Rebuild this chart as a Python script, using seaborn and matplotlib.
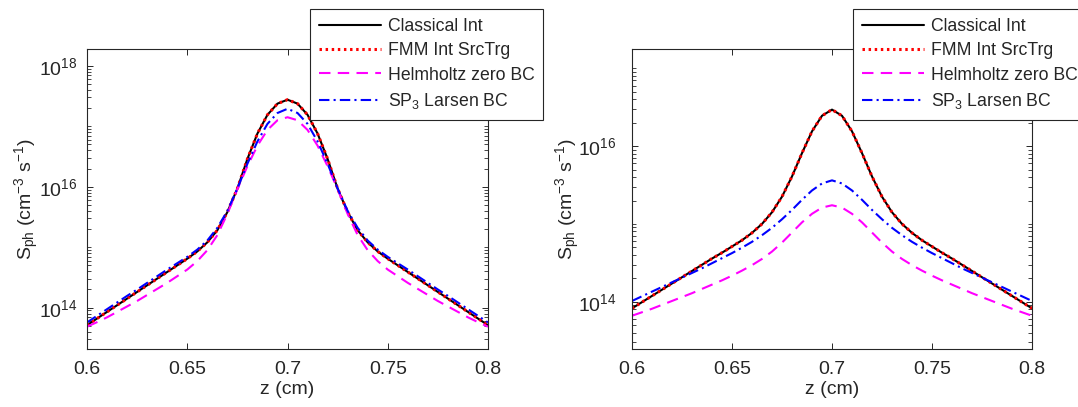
import numpy as np
import pandas as pd
import matplotlib
matplotlib.use("Agg")
import matplotlib.pyplot as plt
import seaborn as sns
from matplotlib.ticker import FixedLocator, LogLocator, NullFormatter

# ---------------- data (log10 of S_ph) ----------------
z = [0.600, 0.605, 0.610, 0.615, 0.620, 0.625, 0.630, 0.635, 0.640, 0.645,
     0.650, 0.655, 0.660, 0.665, 0.670, 0.675, 0.680, 0.685, 0.690, 0.695,
     0.700, 0.705, 0.710, 0.715, 0.720, 0.725, 0.730, 0.735, 0.740, 0.745,
     0.750, 0.755, 0.760, 0.765, 0.770, 0.775, 0.780, 0.785, 0.790, 0.795, 0.800]

left_classical = [13.71, 13.82, 13.93, 14.04, 14.15, 14.26, 14.37, 14.48, 14.59, 14.70,
                  14.81, 14.93, 15.08, 15.28, 15.58, 15.97, 16.46, 16.88, 17.19, 17.375,
                  17.44,
                  17.375, 17.19, 16.88, 16.46, 15.97, 15.58, 15.28, 15.08, 14.93, 14.81,
                  14.70, 14.59, 14.48, 14.37, 14.26, 14.15, 14.04, 13.93, 13.82, 13.71]
left_fmm = [13.71, 13.82, 13.93, 14.04, 14.15, 14.26, 14.37, 14.48, 14.59, 14.70,
            14.81, 14.93, 15.08, 15.28, 15.58, 15.97, 16.46, 16.88, 17.19, 17.375,
            17.44,
            17.375, 17.19, 16.88, 16.46, 15.97, 15.58, 15.28, 15.08, 14.93, 14.81,
            14.70, 14.59, 14.48, 14.37, 14.26, 14.15, 14.04, 13.93, 13.82, 13.71]
left_helmholtz = [13.685, 13.76, 13.84, 13.93, 14.02, 14.11, 14.21, 14.31, 14.41, 14.52,
                  14.63, 14.77, 14.95, 15.20, 15.55, 15.96, 16.34, 16.68, 16.94, 17.10,
                  17.15,
                  17.10, 16.94, 16.68, 16.34, 15.96, 15.55, 15.20, 14.95, 14.77, 14.63,
                  14.52, 14.41, 14.31, 14.21, 14.11, 14.02, 13.93, 13.84, 13.76, 13.685]
left_sp3 = [13.755, 13.865, 13.975, 14.085, 14.195, 14.30, 14.41, 14.52, 14.63, 14.735,
            14.84, 14.96, 15.11, 15.32, 15.60, 15.97, 16.38, 16.75, 17.04, 17.22,
            17.29,
            17.22, 17.04, 16.75, 16.38, 15.97, 15.60, 15.32, 15.11, 14.96, 14.84,
            14.735, 14.63, 14.52, 14.41, 14.30, 14.195, 14.085, 13.975, 13.865, 13.755]

right_classical = [13.915, 13.995, 14.075, 14.155, 14.235, 14.315, 14.395, 14.475, 14.555, 14.63,
                   14.71, 14.79, 14.885, 15.00, 15.15, 15.35, 15.61, 15.91, 16.19, 16.39,
                   16.469,
                   16.39, 16.19, 15.91, 15.61, 15.35, 15.15, 15.00, 14.885, 14.79, 14.71,
                   14.63, 14.555, 14.475, 14.395, 14.315, 14.235, 14.155, 14.075, 13.995, 13.915]
right_fmm = [13.915, 13.995, 14.075, 14.155, 14.235, 14.315, 14.395, 14.475, 14.555, 14.63,
             14.71, 14.79, 14.885, 15.00, 15.15, 15.35, 15.61, 15.91, 16.19, 16.39,
             16.469,
             16.39, 16.19, 15.91, 15.61, 15.35, 15.15, 15.00, 14.885, 14.79, 14.71,
             14.63, 14.555, 14.475, 14.395, 14.315, 14.235, 14.155, 14.075, 13.995, 13.915]
right_helmholtz = [13.82, 13.865, 13.91, 13.96, 14.01, 14.06, 14.11, 14.165, 14.22, 14.275,
                   14.335, 14.40, 14.47, 14.55, 14.645, 14.76, 14.89, 15.02, 15.13, 15.21,
                   15.24,
                   15.21, 15.13, 15.02, 14.89, 14.76, 14.645, 14.55, 14.47, 14.40, 14.335,
                   14.275, 14.22, 14.165, 14.11, 14.06, 14.01, 13.96, 13.91, 13.865, 13.82]
right_sp3 = [14.01, 14.07, 14.13, 14.19, 14.25, 14.31, 14.37, 14.43, 14.495, 14.56,
             14.625, 14.695, 14.77, 14.855, 14.95, 15.06, 15.18, 15.31, 15.43, 15.52,
             15.56,
             15.52, 15.43, 15.31, 15.18, 15.06, 14.95, 14.855, 14.77, 14.695, 14.625,
             14.56, 14.495, 14.43, 14.37, 14.31, 14.25, 14.19, 14.13, 14.07, 14.01]

series_labels = ["Classical Int", "FMM Int SrcTrg", "Helmholtz zero BC", "SP$_3$ Larsen BC"]
x_ticks = [0.6, 0.65, 0.7, 0.75, 0.8]
x_tick_labels = ["0.6", "0.65", "0.7", "0.75", "0.8"]
left_y_ticks = [1e14, 1e16, 1e18]
right_y_ticks = [1e14, 1e16]

# ---------------- style ----------------
sns.set_theme(style="white")
plt.rcParams["font.family"] = ["Liberation Sans", "DejaVu Sans"]
plt.rcParams["mathtext.default"] = "regular"
plt.rcParams["axes.edgecolor"] = "#262626"
plt.rcParams["axes.linewidth"] = 0.8
plt.rcParams["xtick.color"] = "#262626"
plt.rcParams["ytick.color"] = "#262626"
plt.rcParams["text.color"] = "#262626"
plt.rcParams["axes.labelcolor"] = "#262626"

styles = [
    dict(color="black", linestyle="-", linewidth=1.5),
    dict(color="red", linestyle=(0, (0.8, 1.2)), linewidth=2.2),
    dict(color="magenta", linestyle=(0, (5.5, 3.5)), linewidth=1.5),
    dict(color="blue", linestyle=(0, (5, 2, 1, 2)), linewidth=1.5),
]

fig = plt.figure(figsize=(10.78, 4.07), dpi=100)
ax_l = fig.add_axes([87 / 1078, 58 / 407, 401 / 1078, 300 / 407])
ax_r = fig.add_axes([632 / 1078, 58 / 407, 400 / 1078, 300 / 407])

panels = [
    (ax_l, [left_classical, left_fmm, left_helmholtz, left_sp3], (2.07e13, 1.9e18),
     left_y_ticks, 7, 310, -0.1155),
    (ax_r, [right_classical, right_fmm, right_helmholtz, right_sp3], (2.47e13, 1.77e17),
     right_y_ticks, 11, 853, -0.1245),
]

for ax, data, ylim, yticks, ypad, leg_x, ylab_x in panels:
    for vals, lab, st in zip(data, series_labels, styles):
        df = pd.DataFrame({"z": z, "S": 10 ** np.array(vals)})
        sns.lineplot(data=df, x="z", y="S", ax=ax, label=lab, **st)
    ax.set_yscale("log")
    ax.set_xlim(0.6, 0.8)
    ax.set_ylim(*ylim)
    ax.set_xticks(x_ticks)
    ax.set_xticklabels(x_tick_labels)
    ax.yaxis.set_major_locator(FixedLocator(yticks))
    ax.yaxis.set_minor_locator(LogLocator(base=10, subs=np.arange(1, 10), numticks=50))
    ax.yaxis.set_minor_formatter(NullFormatter())
    ax.tick_params(axis="both", which="both", direction="in",
                   top=True, right=True, bottom=True, left=True)
    ax.tick_params(axis="both", which="major", length=4, width=0.7, labelsize=14)
    ax.tick_params(axis="y", which="minor", length=2.6, width=0.6)
    ax.tick_params(axis="x", which="major", pad=9)
    ax.tick_params(axis="y", which="major", pad=ypad)
    ax.set_xlabel("z (cm)", fontsize=14, labelpad=2)
    ax.set_ylabel("S$_{ph}$ (cm$^{-3}$ s$^{-1}$)", fontsize=14)
    ax.yaxis.set_label_coords(ylab_x, 0.5)
    for sp in ax.spines.values():
        sp.set_visible(True)
        sp.set_color("#262626")
    leg = ax.legend(loc="upper left", bbox_to_anchor=(leg_x / 1078, 1 - 9 / 407),
                    bbox_transform=fig.transFigure, fontsize=12.7, frameon=True,
                    fancybox=False, framealpha=1, edgecolor="#262626",
                    handlelength=3.5, handletextpad=0.4, labelspacing=0.42,
                    borderpad=0.5, borderaxespad=0)
    leg.get_frame().set_linewidth(0.8)

fig.savefig("out.png", dpi=100)
